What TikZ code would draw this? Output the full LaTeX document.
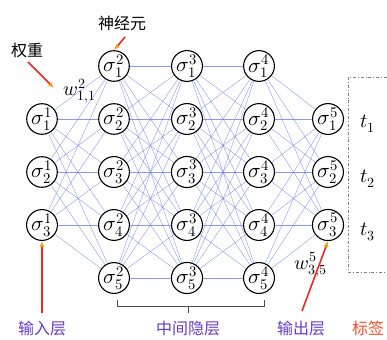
\documentclass[tikz,border=0pt]{standalone}
\usepackage{fontspec}
\usepackage{unicode-math}
\setmathfont{Latin Modern Math}
\newfontfamily\cjk{Noto Sans CJK SC}
\usetikzlibrary{arrows.meta}
\definecolor{linkblue}{RGB}{90,110,225}
\definecolor{lblpurple}{RGB}{100,60,200}
\definecolor{lblorange}{RGB}{240,80,40}
\definecolor{arrred}{RGB}{235,40,40}
\definecolor{arrtip}{RGB}{250,160,30}
\tikzset{
  neuron/.style={circle,draw=black,line width=1.1pt,fill=white,minimum size=25pt,inner sep=0pt,font=\fontsize{21}{21}\selectfont},
  link/.style={linkblue,line width=0.4pt,opacity=0.7},
  cjklabel/.style={font=\cjk\fontsize{16}{16}\selectfont},
  pointer/.style={arrred,line width=1.6pt,-{Latex[length=6pt,width=5pt,color=arrtip]}},
  tag/.style={font=\fontsize{20}{20}\selectfont,inner sep=0pt},
  boxline/.style={gray,line width=0.8pt,dash dot},
  bracket/.style={black!70,line width=0.7pt}
}
\begin{document}
\begin{tikzpicture}[x=1pt,y=-1pt]
\useasboundingbox (0,0) rectangle (387,339);
% layer 1
\foreach \i/\y in {1/119,2/172,3/225} \node[neuron] (a\i) at (42,\y) {$\sigma_{\i}^{1}$};
% layer 2,3,4
\foreach \i/\y in {1/66,2/119,3/172,4/225,5/278} {
  \node[neuron] (b\i) at (114,\y) {$\sigma_{\i}^{2}$};
  \node[neuron] (c\i) at (187,\y) {$\sigma_{\i}^{3}$};
  \node[neuron] (d\i) at (259,\y) {$\sigma_{\i}^{4}$};
}
% layer 5
\foreach \i/\y in {1/119,2/172,3/225} \node[neuron] (e\i) at (328,\y) {$\sigma_{\i}^{5}$};
% links
\foreach \i in {1,2,3} \foreach \j in {1,...,5} \draw[link] (a\i) -- (b\j);
\foreach \i in {1,...,5} \foreach \j in {1,...,5} {
  \draw[link] (b\i) -- (c\j);
  \draw[link] (c\i) -- (d\j);
}
\foreach \i in {1,...,5} \foreach \j in {1,2,3} \draw[link] (d\i) -- (e\j);
% labels box
\coordinate (bxtl) at (348,77);
\coordinate (bxbl) at (348,272);
\coordinate (bxtr) at (387,77);
\coordinate (bxbr) at (387,272);
\draw[boxline] (bxtr) -- (bxtl) -- (bxbl) -- (bxbr);
\node[tag] (t1) at (368,124) {$t_1$};
\node[tag] (t2) at (368,179) {$t_2$};
\node[tag] (t3) at (368,232) {$t_3$};
% weight labels
\node[tag] (w112) at (80,91) {$w_{1,1}^{2}$};
\node[tag] (w355) at (311,265) {$w_{3,5}^{5}$};
% chinese labels
\node[cjklabel] (lw) at (27,50) {权重};
\node[cjklabel] (ln) at (122,23) {神经元};
\node[cjklabel,text=lblpurple] (lin) at (42,328) {输入层};
\node[cjklabel,text=lblpurple] (lhid) at (188,328) {中间隐层};
\node[cjklabel,text=lblpurple] (lout) at (301,328) {输出层};
\node[cjklabel,text=lblorange] (ltag) at (368,328) {标签};
% pointers
\coordinate (pw0) at (28,62);
\coordinate (pw1) at (54,88);
\draw[pointer] (pw0) -- (pw1);
\coordinate (pn0) at (125,37);
\draw[pointer] (pn0) -- (b1.north);
\coordinate (pi0) at (42,313);
\draw[pointer] (pi0) -- (a3.south);
\coordinate (po0) at (302,311);
\draw[pointer] (po0) -- (e3.south);
% bracket
\coordinate (brl) at (117,306);
\coordinate (brr) at (264,306);
\coordinate (brlt) at (117,300);
\coordinate (brrt) at (264,300);
\coordinate (brm) at (188,306);
\coordinate (brmb) at (188,313);
\draw[bracket] (brlt) -- (brl) -- (brr) -- (brrt);
\draw[bracket] (brm) -- (brmb);
\end{tikzpicture}
\end{document}
